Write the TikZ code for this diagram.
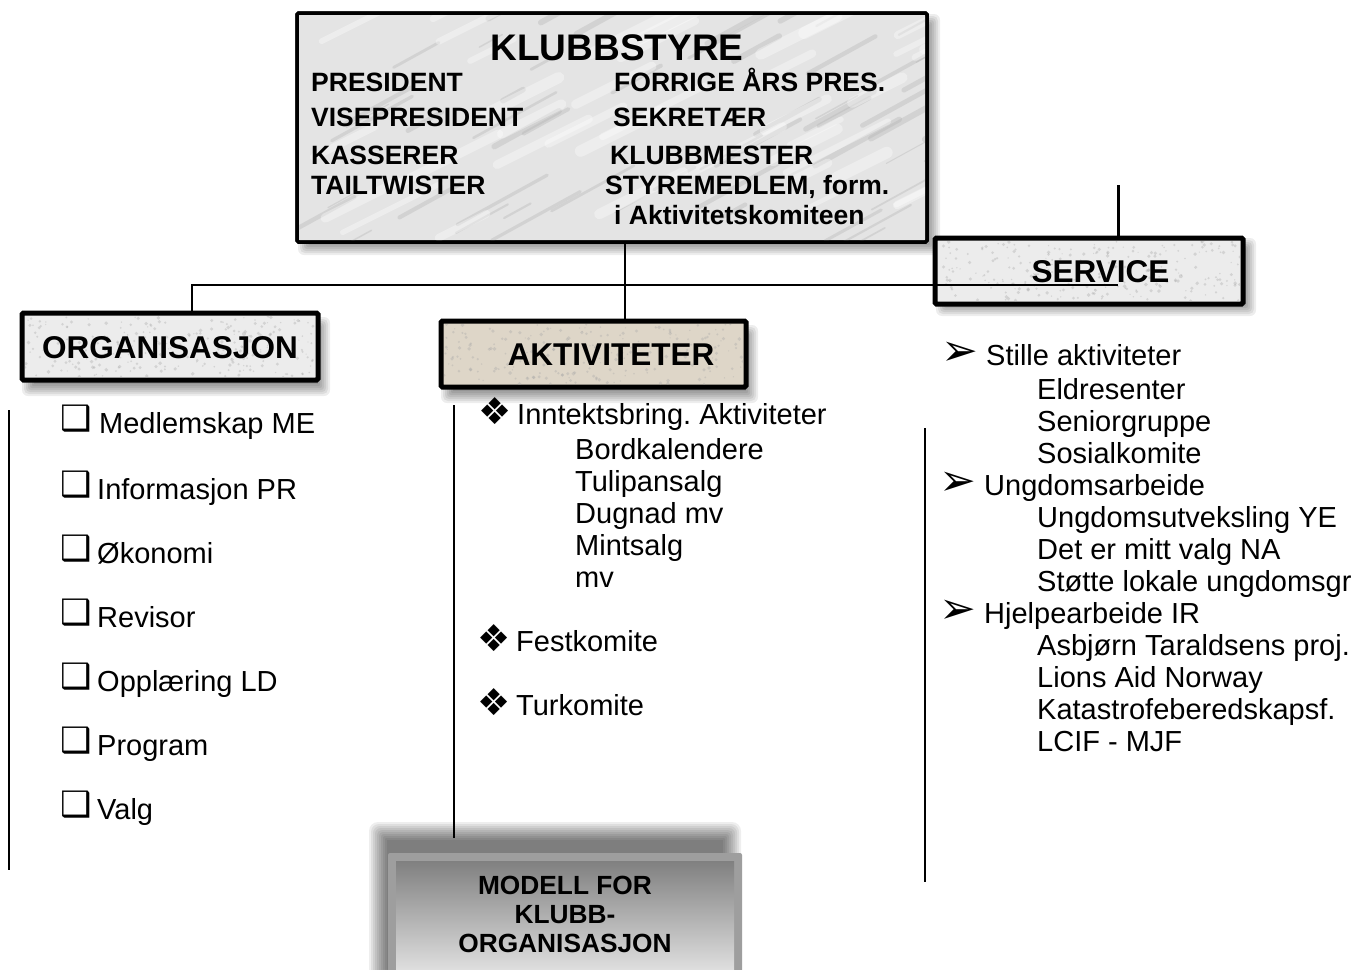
\documentclass[tikz,border=0pt]{standalone}
\usepackage{fontspec}
\setmainfont{Liberation Sans}
\newfontfamily\sym{DejaVu Sans}
\usetikzlibrary{calc}
\frenchspacing
\newcommand\mkshadow[6]{% x1,y1,x2,y2,dx,dy
  \foreach \k in {0,...,6}{%
    \fill[black,opacity=0.07,rounded corners=\k pt] (#1+#5+6-\k*2,#2+#6+6-\k*2) rectangle (#3+#5-6+\k*2,#4+#6-6+\k*2);}}
\newcommand\speckle[5]{% x1,y1,x2,y2,count
  \begin{scope}
    \clip (#1,#2) rectangle (#3,#4);
    \foreach \n in {1,...,#5}{%
      \pgfmathsetmacro\px{#1+rnd*(#3-#1)}%
      \pgfmathsetmacro\py{#2+rnd*(#4-#2)}%
      \pgfmathsetmacro\pr{0.6+rnd*1.4}%
      \fill[gray!70, opacity=0.35] (\px,\py) circle[radius=\pr];}
  \end{scope}}
\tikzset{
  hdr/.style={font=\fontsize{31.5}{36}\selectfont\bfseries, anchor=base, inner sep=0pt},
  ttl/.style={font=\fontsize{37}{40}\selectfont\bfseries, anchor=base, inner sep=0pt},
  bld/.style={font=\fontsize{26.5}{30}\selectfont\bfseries, anchor=base west, inner sep=0pt},
  bldc/.style={font=\fontsize{26.3}{29}\selectfont\bfseries, anchor=base, inner sep=0pt},
  reg/.style={font=\fontsize{29}{32}\selectfont, anchor=base west, inner sep=0pt},
  boxframe/.style={draw=black, line width=5pt, rounded corners=1.5pt},
  conn/.style={line width=2pt, draw=black},
  vline/.style={line width=1.3pt, draw=black},
  vein/.style={line cap=round, opacity=0.35},
}
\definecolor{marble}{RGB}{228,228,228}
\definecolor{speck}{RGB}{236,236,236}
\definecolor{beige}{RGB}{222,214,200}
\definecolor{frameg}{RGB}{158,158,158}
\newcommand\sq{\makebox[35pt][l]{\hspace*{-2pt}\raisebox{3pt}{\fontsize{35}{35}\sym ❑}}}
\newcommand\dia{\makebox[37pt][l]{\hspace*{-2pt}\fontsize{37}{37}\sym ❖}}
\newcommand\arr{\makebox[42pt][l]{\hspace*{-3pt}\fontsize{44}{44}\sym ➢}}
\begin{document}
\begin{tikzpicture}[x=1pt,y=-1pt]
\pgfmathsetseed{4711}
\useasboundingbox (0,0) rectangle (1357,969);
\clip (0,0) rectangle (1357,969);
\fill[white] (0,0) rectangle (1357,969);

% ---------- shadows ----------
\mkshadow{297}{13}{927}{242}{7}{7}
\mkshadow{22}{313}{318}{380}{6}{10}
\mkshadow{441}{321}{746}{387}{6}{10}
\mkshadow{935}{238}{1243}{304}{7}{6}
\foreach \k in {0,...,9}{%
  \fill[black,opacity=0.065,rounded corners=\k pt] (388-10+9-\k*2,853-22+9-\k*2) rectangle (742-10-9+\k*2,990);}

% ---------- boxes ----------
\node[boxframe, line width=3.5pt, fill=marble, minimum width=630pt, minimum height=229pt] (styre) at (612,127.5) {};
\begin{scope}
  \clip (299,15) rectangle (925,240);
  \foreach \n in {1,...,60}{%
    \pgfmathsetmacro\ax{280+rnd*660}%
    \pgfmathsetmacro\ay{0+rnd*260}%
    \pgfmathsetmacro\bl{20+rnd*70}%
    \pgfmathsetmacro\lw{1+rnd*5}%
    \draw[vein, gray!60, line width=\lw pt] (\ax,\ay) -- ++(\bl,-\bl*0.55);}
  \foreach \n in {1,...,40}{%
    \pgfmathsetmacro\ax{280+rnd*660}%
    \pgfmathsetmacro\ay{0+rnd*260}%
    \pgfmathsetmacro\bl{30+rnd*80}%
    \pgfmathsetmacro\lw{4+rnd*8}%
    \draw[vein, white, line width=\lw pt] (\ax,\ay) -- ++(\bl,-\bl*0.5);}
\end{scope}
\draw[black, line width=3.5pt, rounded corners=1.5pt] (297,13) rectangle (927,242);

\node[boxframe, fill=speck, minimum width=296pt, minimum height=67pt] (org) at (170,346.5) {};
\speckle{25}{316}{315}{377}{260}
\node[boxframe, fill=beige, minimum width=305pt, minimum height=66pt] (akt) at (593.5,354) {};
\speckle{444}{324}{743}{384}{220}
\node[boxframe, fill=speck, minimum width=308pt, minimum height=66pt] (serv) at (1089,271) {};
\speckle{938}{241}{1240}{301}{260}

% bottom box
\fill[frameg, rounded corners=2pt] (388,853) rectangle (742,990);
\shade[top color={rgb,255:red,128;green,128;blue,128}, bottom color={rgb,255:red,240;green,240;blue,240}] (396,861) rectangle (734,990);
\node[minimum width=354pt, minimum height=137pt, inner sep=0pt] (modell) at (565,921.5) {};

% ---------- box texts ----------
\node[ttl] (t0) at (617,60) {KLUBBSTYRE};
\node[bld] (t1) at (311,91.5) {PRESIDENT};
\node[bld] (t2) at (311,126.5) {VISEPRESIDENT};
\node[bld] (t3) at (311,164.5) {KASSERER};
\node[bld] (t4) at (311,194.5) {TAILTWISTER};
\node[bld] (t5) at (614,91.5) {FORRIGE ÅRS PRES.};
\node[bld] (t6) at (613,126.5) {SEKRETÆR};
\node[bld] (t7) at (610,164.5) {KLUBBMESTER};
\node[bld] (t8) at (605,194.5) {STYREMEDLEM, form.};
\node[bld] (t9) at (614,224.5) {i Aktivitetskomiteen};

\node[hdr] (h1) at (170,358) {ORGANISASJON};
\node[hdr] (h2) at (611,365) {AKTIVITETER};
\node[hdr] (h3) at (1100.5,282) {SERVICE};

\node[bldc] (m1) at (565,894) {MODELL FOR};
\node[bldc] (m2) at (565,923) {KLUBB-};
\node[bldc] (m3) at (565,952) {ORGANISASJON};

% ---------- connectors ----------
\coordinate (corner) at (192,285);
\coordinate (hend) at (1118,285);
\coordinate (stop) at (1118,185);
\draw[conn] (styre.south -| 625,0) -- (akt.north -| 625,0);
\draw[conn] (org.north -| corner) -- (corner) -- (hend);
\draw[conn, line width=3pt] (stop) -- (serv.north -| stop);

\coordinate (la) at (9,410);   \coordinate (lb) at (9,870);
\coordinate (ma) at (454,405); \coordinate (mb) at (454,838);
\coordinate (ra) at (925,428); \coordinate (rb) at (925,882);
\draw[vline] (la) -- (lb);
\draw[vline] (ma) -- (mb);
\draw[vline] (ra) -- (rb);

% ---------- left list ----------
\node[reg] (o1) at (62,433) {\sq\hspace{2pt}Medlemskap ME};
\node[reg] (o2) at (62,499) {\sq Informasjon PR};
\node[reg] (o3) at (62,563) {\sq Økonomi};
\node[reg] (o4) at (62,627) {\sq Revisor};
\node[reg] (o5) at (62,691) {\sq Opplæring LD};
\node[reg] (o6) at (62,755) {\sq Program};
\node[reg] (o7) at (62,819) {\sq Valg};

% ---------- middle list ----------
\node[reg] (a1) at (480,424) {\dia Inntektsbring. Aktiviteter};
\node[reg] (a2) at (575,459) {Bordkalendere};
\node[reg] (a3) at (575,491) {Tulipansalg};
\node[reg] (a4) at (575,523) {Dugnad mv};
\node[reg] (a5) at (575,555) {Mintsalg};
\node[reg] (a6) at (575,587) {mv};
\node[reg] (a7) at (479,651) {\dia Festkomite};
\node[reg] (a8) at (479,715) {\dia Turkomite};

% ---------- right list ----------
\node[reg] (s1) at (944,365) {\makebox[42pt][l]{\hspace*{-3pt}\fontsize{44}{44}\sym ➢}Stille aktiviteter};
\node[reg] (s2) at (1037,399) {Eldresenter};
\node[reg] (s3) at (1037,431) {Seniorgruppe};
\node[reg] (s4) at (1037,463) {Sosialkomite};
\node[reg] (s5) at (942,495) {\arr Ungdomsarbeide};
\node[reg] (s6) at (1037,527) {Ungdomsutveksling YE};
\node[reg] (s7) at (1037,559) {Det er mitt valg NA};
\node[reg] (s8) at (1037,591) {Støtte lokale ungdomsgr};
\node[reg] (s9) at (942,623) {\arr Hjelpearbeide IR};
\node[reg] (s10) at (1037,655) {Asbjørn Taraldsens proj.};
\node[reg] (s11) at (1037,687) {Lions Aid Norway};
\node[reg] (s12) at (1037,719) {Katastrofeberedskapsf.};
\node[reg] (s13) at (1037,751) {LCIF - MJF};
\end{tikzpicture}
\end{document}
